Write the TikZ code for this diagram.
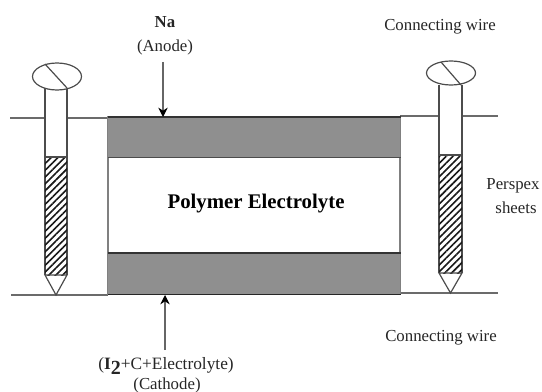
\documentclass[tikz,border=0pt]{standalone}
\usepackage{fontspec}
\setmainfont{Liberation Serif}
\usetikzlibrary{patterns.meta,arrows.meta}
\definecolor{band}{gray}{0.56}
\definecolor{ln}{gray}{0.42}
\tikzset{
  x=0.75pt,y=-0.75pt,
  wire/.style={draw=ln,line width=0.9pt},
  bandbox/.style={fill=band,draw=none},
  screwline/.style={draw=black!70,line width=0.9pt},
  lead/.style={draw=black!60,line width=0.8pt,-{Stealth[length=7pt,width=7pt,color=black]}},
  lab/.style={font=\fontsize{12.6}{15}\selectfont,align=center,text=black!85,inner sep=0pt},
}
\newcommand{\screw}[6]{% xleft xright hatchtop hatchbottom tip headcy
  \fill[white] (#1,#6) rectangle (#2,#3);
  \draw[screwline] (#1,#6+12) -- (#1,#4);
  \draw[screwline] (#2,#6+12) -- (#2,#4);
  \fill[pattern={Lines[angle=45,distance=3.6pt,line width=1.2pt]},pattern color=black!90] (#1,#3) rectangle (#2,#4);
  \draw[screwline,line width=1.2pt] (#1,#3) -- (#2,#3);
  \draw[screwline] (#1,#4) -- (#2,#4) -- ({(#1+#2)/2},#5) -- cycle;
}
\begin{document}
\begin{tikzpicture}
\useasboundingbox (0,0) rectangle (542,392);
% wires
\coordinate (tl) at (10,118); \coordinate (tr) at (498,116);
\coordinate (bl) at (11,295); \coordinate (br) at (498,293);
\draw[wire] (tl) -- (108,118);
\draw[wire] (400,116) -- (tr);
\draw[wire] (bl) -- (108,295);
\draw[wire] (400,293) -- (br);
% cell
\draw[draw=black!50,line width=1pt] (108,117) rectangle (400,294);
\node[bandbox,minimum width=219pt,minimum height=30pt,inner sep=0pt,anchor=north west] (anode) at (108,117) {};
\node[bandbox,minimum width=219pt,minimum height=30.75pt,inner sep=0pt,anchor=north west] (cathode) at (108,253) {};
\draw[black!80,line width=1.1pt] (anode.north west) -- (anode.north east);
\draw[black!70,line width=1pt] (anode.south west) -- (anode.south east);
\draw[black!80,line width=1.1pt] (cathode.north west) -- (cathode.north east);
\draw[black!85,line width=1.2pt] (cathode.south west) -- (cathode.south east);
\node[font=\fontsize{15.6}{18}\selectfont\bfseries,inner sep=0pt] (pe) at (256,204) {Polymer Electrolyte};
% screws
\screw{45}{67}{157}{275}{295}{76}
\screw{439}{462}{155}{273}{293}{73}
\draw[screwline,fill=white] (57,76.5) ellipse (24.5 and 13.5);
\draw[screwline] (45,64) -- (67,88);
\draw[screwline,fill=white] (451,73) ellipse (24.5 and 12);
\draw[screwline] (441,62) -- (461,85);
% labels
\node[lab,font=\fontsize{12.6}{15}\selectfont\bfseries] (na) at (165,22) {Na};
\node[lab] (an) at (165,47) {(Anode)};
\node[lab] (cw1) at (440,27) {Connecting wire};
\node[lab] (ps) at (513,186) {Perspex};
\node[lab] (sh) at (516,208) {sheets};
\node[lab] (cw2) at (441,338) {Connecting wire};
\node[lab,font=\fontsize{13}{15}\selectfont] (ce) at (166,366) {(\textbf{I}\raisebox{-4pt}{\fontsize{15}{15}\selectfont\bfseries 2}+C+Electrolyte)};
\node[lab] (ca) at (167,385) {(Cathode)};
% arrows
\coordinate (as) at (163,62);
\coordinate (at) at (163,117);
\coordinate (bs) at (165,350);
\coordinate (ab) at (165,295);
\draw[lead] (as) -- (at);
\draw[lead] (bs) -- (ab);
\end{tikzpicture}
\end{document}
